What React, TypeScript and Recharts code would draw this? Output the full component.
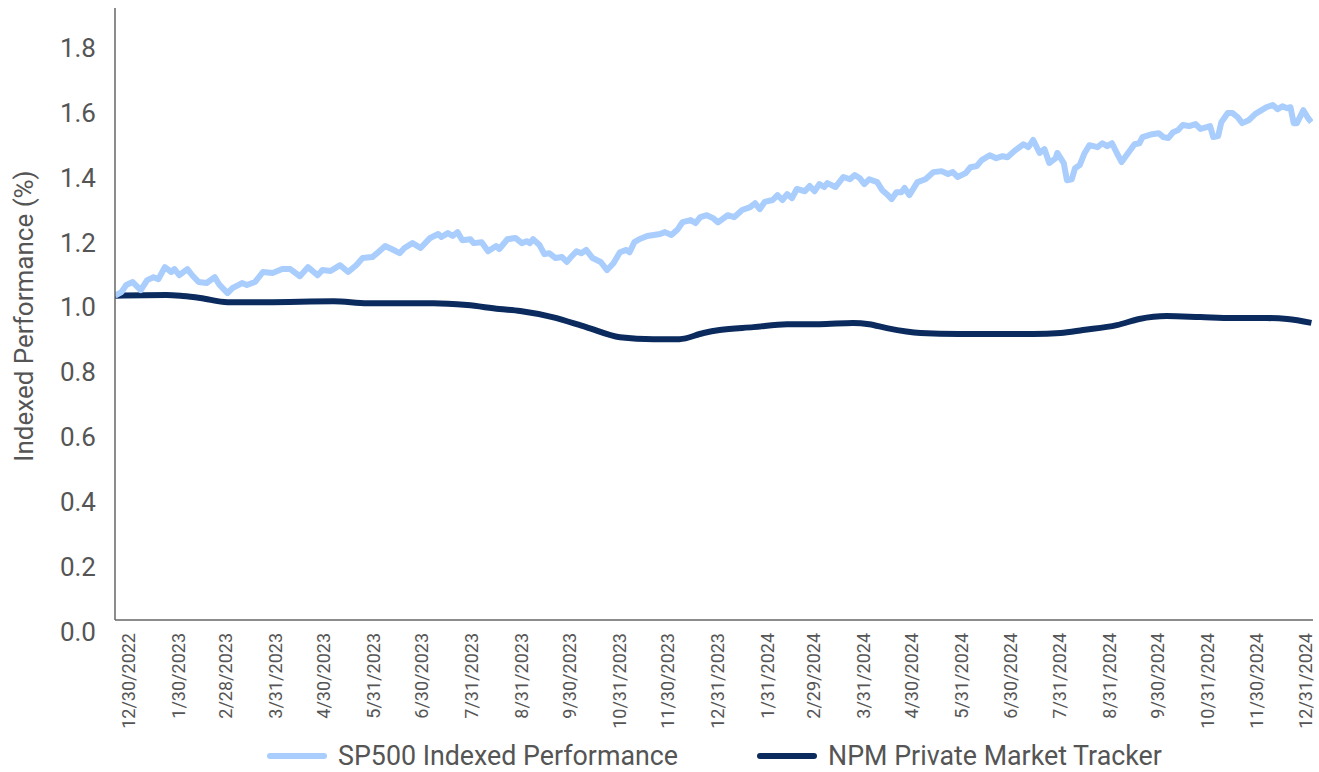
import React from 'react';
import { LineChart, Line, XAxis, YAxis, Legend, Label } from 'recharts';

// x values are days counted from 12/30/2022
const sp500Days = [
  -13, -9, -6, -2, 3, 7, 11, 14, 18, 22, 24, 27, 32, 35, 39, 44, 49, 52, 57, 60,
  66, 69, 74, 79, 85, 91, 96, 102, 107, 113, 116, 121, 127, 132, 137, 141, 147, 150, 155, 159,
  164, 167, 172, 177, 183, 188, 190, 194, 197, 200, 203, 208, 210, 215, 219, 224, 226, 231, 236, 240,
  243, 245, 247, 251, 254, 257, 261, 265, 268, 270, 274, 277, 280, 284, 289, 293, 297, 301, 305, 307,
  310, 313, 318, 322, 326, 329, 333, 337, 340, 345, 348, 351, 355, 359, 362, 368, 372, 377, 382, 385,
  388, 391, 396, 399, 402, 405, 408, 411, 416, 419, 422, 425, 428, 430, 435, 440, 444, 447, 450, 453,
  456, 461, 464, 467, 470, 473, 476, 478, 481, 486, 491, 496, 501, 505, 508, 511, 516, 519, 523, 526,
  531, 535, 539, 542, 547, 552, 555, 558, 562, 565, 568, 572, 573, 577, 579, 582, 584, 587, 590, 593,
  598, 601, 604, 607, 610, 613, 616, 621, 624, 626, 632, 636, 639, 642, 645, 648, 651, 655, 659, 662,
  666, 668, 670, 673, 675, 679, 682, 685, 688, 692, 696, 699, 703, 707, 710, 713, 716, 718, 720, 722,
  726, 729, 731,
];
const sp500Values = [
  1.0, 1.011, 1.033, 1.042, 1.017, 1.048, 1.057, 1.051, 1.088, 1.073, 1.082, 1.063, 1.082, 1.063, 1.042, 1.039, 1.057, 1.033, 1.008, 1.023,
  1.039, 1.033, 1.042, 1.073, 1.07, 1.082, 1.082, 1.06, 1.088, 1.063, 1.079, 1.076, 1.094, 1.073, 1.094, 1.116, 1.119, 1.131, 1.153, 1.144,
  1.131, 1.147, 1.162, 1.147, 1.178, 1.19, 1.181, 1.193, 1.184, 1.196, 1.171, 1.174, 1.162, 1.165, 1.137, 1.153, 1.144, 1.174, 1.178, 1.162,
  1.168, 1.162, 1.174, 1.156, 1.128, 1.131, 1.116, 1.119, 1.104, 1.116, 1.137, 1.131, 1.141, 1.116, 1.104, 1.079, 1.1, 1.134, 1.141, 1.134,
  1.165, 1.174, 1.184, 1.187, 1.19, 1.196, 1.187, 1.205, 1.227, 1.233, 1.224, 1.242, 1.248, 1.239, 1.226, 1.248, 1.242, 1.264, 1.273, 1.285,
  1.267, 1.289, 1.295, 1.31, 1.295, 1.313, 1.301, 1.329, 1.322, 1.338, 1.322, 1.344, 1.335, 1.347, 1.335, 1.366, 1.359, 1.372, 1.363, 1.344,
  1.359, 1.35, 1.326, 1.313, 1.298, 1.319, 1.319, 1.332, 1.31, 1.35, 1.359, 1.381, 1.384, 1.375, 1.381, 1.366, 1.378, 1.396, 1.4, 1.418,
  1.433, 1.424, 1.43, 1.427, 1.449, 1.467, 1.458, 1.48, 1.44, 1.452, 1.409, 1.424, 1.44, 1.409, 1.356, 1.359, 1.393, 1.403, 1.44, 1.464,
  1.458, 1.47, 1.461, 1.47, 1.44, 1.412, 1.433, 1.467, 1.47, 1.489, 1.498, 1.501, 1.489, 1.486, 1.504, 1.51, 1.526, 1.523, 1.529, 1.514,
  1.52, 1.523, 1.489, 1.492, 1.535, 1.563, 1.563, 1.551, 1.532, 1.541, 1.56, 1.569, 1.581, 1.588, 1.575, 1.584, 1.578, 1.581, 1.532, 1.532,
  1.572, 1.547, 1.535,
];

const npmDays = [
  -13, 19, 29, 40, 57, 81, 123, 144, 185, 206, 226, 239, 259, 280, 301, 322, 338, 353, 363, 384,
  405, 425, 446, 456, 467, 488, 512, 537, 558, 575, 589, 610, 624, 641, 662, 682, 703, 716, 731,
];
const npmValues = [
  1.0, 1.002, 0.999, 0.993, 0.98, 0.98, 0.983, 0.977, 0.977, 0.971, 0.959, 0.953, 0.934, 0.903, 0.872, 0.866, 0.866, 0.885, 0.894, 0.903,
  0.912, 0.912, 0.916, 0.912, 0.9, 0.885, 0.882, 0.882, 0.882, 0.885, 0.894, 0.909, 0.928, 0.937, 0.934, 0.931, 0.931, 0.928, 0.916,
];

const tickDays = [
  0, 31, 60, 91, 121, 152, 182, 213, 244, 274, 305, 335, 366,
  397, 426, 457, 487, 518, 548, 579, 610, 640, 671, 701, 732,
];
const tickLabels = [
  '12/30/2022', '1/30/2023', '2/28/2023', '3/31/2023', '4/30/2023', '5/31/2023', '6/30/2023',
  '7/31/2023', '8/31/2023', '9/30/2023', '10/31/2023', '11/30/2023', '12/31/2023',
  '1/31/2024', '2/29/2024', '3/31/2024', '4/30/2024', '5/31/2024', '6/30/2024', '7/31/2024',
  '8/31/2024', '9/30/2024', '10/31/2024', '11/30/2024', '12/31/2024',
];
const yTicks = [0, 0.2, 0.4, 0.6, 0.8, 1.0, 1.2, 1.4, 1.6, 1.8];

const SP_COLOR = '#a9cdfc';
const NPM_COLOR = '#0b2b5e';
const TEXT_COLOR = '#555555';
const FONT = 'Roboto, "Noto Sans", sans-serif';

const sp500Data = sp500Days.map((day, i) => ({ day, value: sp500Values[i] }));
const npmData = npmDays.map((day, i) => ({ day, value: npmValues[i] }));

const legendItems = [
  { name: 'SP500 Indexed Performance', color: SP_COLOR },
  { name: 'NPM Private Market Tracker', color: NPM_COLOR },
];

const XTick = (props: any) => {
  const { x, payload } = props;
  const idx = tickDays.indexOf(payload.value);
  return (
    <text
      transform={`translate(${x - 7}, 633) rotate(-90)`}
      textAnchor="end"
      dy="0.355em"
      fontSize={18}
      fontFamily={FONT}
      fill={TEXT_COLOR}
    >
      {tickLabels[idx]}
    </text>
  );
};

const YTick = (props: any) => {
  const { y, payload } = props;
  return (
    <text
      x={96}
      y={y + 11.5}
      dy="0.355em"
      textAnchor="end"
      fontSize={26}
      fontFamily={FONT}
      fill={TEXT_COLOR}
    >
      {payload.value.toFixed(1)}
    </text>
  );
};

const LegendContent = () => (
  <div
    style={{
      display: 'flex',
      alignItems: 'center',
      height: 32,
      paddingLeft: 267,
      fontFamily: FONT,
      fontSize: 26.8,
      color: TEXT_COLOR,
    }}
  >
    {legendItems.map((item, i) => (
      <div key={item.name} style={{ display: 'flex', alignItems: 'center', marginLeft: i === 0 ? 0 : 79 }}>
        <svg width={60} height={8} style={{ marginRight: 11 }}>
          <line x1={3} y1={4} x2={57} y2={4} stroke={item.color} strokeWidth={6} strokeLinecap="round" />
        </svg>
        <span style={{ whiteSpace: 'nowrap' }}>{item.name}</span>
      </div>
    ))}
  </div>
);

export default function App() {
  return (
    <div style={{ position: 'fixed', left: 0, top: 0, width: 1319, height: 772, background: '#ffffff' }}>
      <LineChart width={1319} height={772} margin={{ top: 8, right: 6, left: 0, bottom: 0 }}>
        <XAxis
          type="number"
          dataKey="day"
          domain={[-13, 732]}
          ticks={tickDays}
          interval={0}
          tickLine={false}
          tick={<XTick />}
          height={120}
          stroke="#666666"
          strokeWidth={1.5}
          allowDataOverflow
        />
        <YAxis
          type="number"
          domain={[0, 1.887]}
          ticks={yTicks}
          tickLine={false}
          tick={<YTick />}
          width={115}
          stroke="#666666"
          strokeWidth={1.5}
          allowDataOverflow
        >
          <Label
            content={() => (
              <text
                x={24}
                y={316}
                transform="rotate(-90, 24, 316)"
                textAnchor="middle"
                dominantBaseline="central"
                fontSize={26}
                fontFamily={FONT}
                fill={TEXT_COLOR}
              >
                Indexed Performance (%)
              </text>
            )}
          />
        </YAxis>
        <Legend verticalAlign="bottom" height={32} content={<LegendContent />} wrapperStyle={{ left: 0, width: 1319 }} />
        <Line
          data={npmData}
          dataKey="value"
          name="NPM Private Market Tracker"
          type="monotone"
          stroke={NPM_COLOR}
          strokeWidth={6}
          dot={false}
          isAnimationActive={false}
        />
        <Line
          data={sp500Data}
          dataKey="value"
          name="SP500 Indexed Performance"
          type="linear"
          stroke={SP_COLOR}
          strokeWidth={6}
          strokeLinejoin="round"
          dot={false}
          isAnimationActive={false}
        />
      </LineChart>
    </div>
  );
}
